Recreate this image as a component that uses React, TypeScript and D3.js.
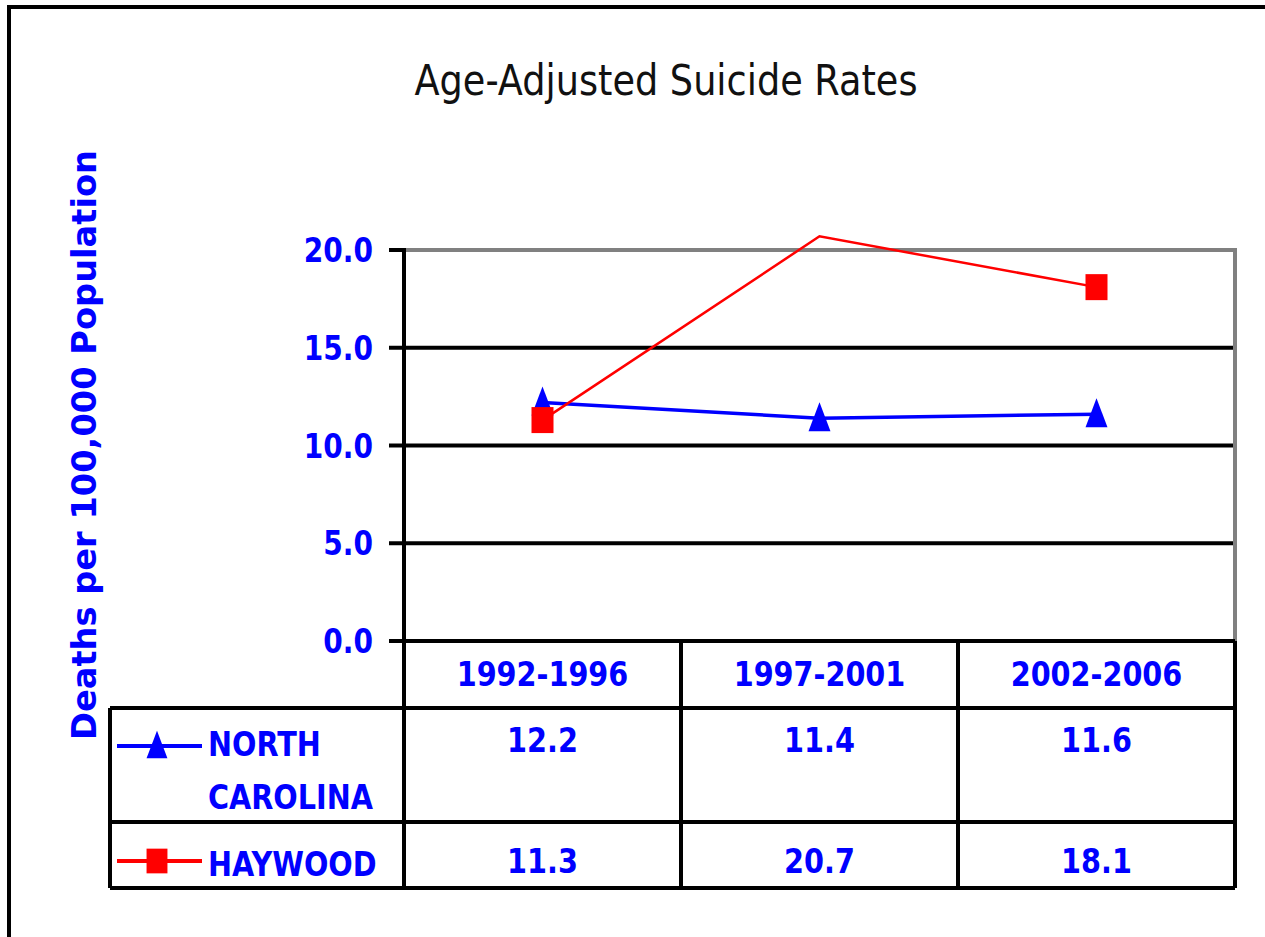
import * as d3 from 'd3';

const periods = ['1992-1996', '1997-2001', '2002-2006'];
const northCarolina = [12.2, 11.4, 11.6];
const haywood = [11.3, 20.7, 18.1];
const yTicks = [0, 5, 10, 15, 20];

const series = [
  { label: ['NORTH', 'CAROLINA'], values: northCarolina, color: '#0000ff', marker: 'triangle', width: 3.5 },
  { label: ['HAYWOOD'], values: haywood, color: '#ff0000', marker: 'square', width: 2.5 },
];

const FONT = 'DejaVu Sans, Verdana, sans-serif';
const BLUE = '#0000ff';

// plot frame
const left = 404;
const right = 1235;
const top = 250;
const bottom = 641;
// table rows
const headerBottom = 708;
const rowBottoms = [822, 888];
const tableLeft = 110;

const Marker = ({ type, color, x, y, s = 1 }) => {
  if (type === 'triangle') {
    return (
      <path
        d={`M0,${-16 * s}L${11 * s},${13 * s}L${-11 * s},${13 * s}Z`}
        transform={`translate(${x},${y})`}
        fill={color}
      />
    );
  }
  return <rect x={x - 11 * s} y={y - 13 * s} width={22 * s} height={26 * s} fill={color} />;
};

const Txt = ({ x, y, anchor = 'middle', size = 33, sx = 0.87, bold = true, fill = BLUE, children }) => (
  <text
    transform={`translate(${x},${y}) scale(${sx},1)`}
    textAnchor={anchor}
    fontFamily={FONT}
    fontWeight={bold ? 'bold' : 'normal'}
    fontSize={size}
    fill={fill}
  >
    {children}
  </text>
);

export default function App() {
  const x = d3.scaleBand().domain(periods).range([left, right]);
  const y = d3.scaleLinear().domain([0, 20]).range([bottom, top]);
  const cx = (p) => x(p) + x.bandwidth() / 2;
  const fmt = d3.format('.1f');
  const line = d3
    .line()
    .x((d, i) => cx(periods[i]))
    .y((d) => y(d));
  const colEdges = periods.map((p) => x(p)).concat([right]);
  const rowTops = [headerBottom, rowBottoms[0]];

  return (
    <svg
      width={1265}
      height={937}
      style={{ position: 'absolute', left: 0, top: 0, background: '#fff' }}
    >
      {/* outer frame */}
      <rect x={9} y={7} width={1400} height={1100} fill="none" stroke="#000" strokeWidth={4} />

      <text
        x={666}
        y={95}
        textAnchor="middle"
        fontFamily={FONT}
        fontSize={42}
        textLength={503}
        lengthAdjust="spacingAndGlyphs"
        fill="#111"
      >
        Age-Adjusted Suicide Rates
      </text>

      <text
        transform="translate(96,445) rotate(-90)"
        textAnchor="middle"
        fontFamily={FONT}
        fontWeight="bold"
        fontSize={34}
        textLength={590}
        lengthAdjust="spacingAndGlyphs"
        fill={BLUE}
      >
        Deaths per 100,000 Population
      </text>

      {/* gridlines */}
      {yTicks.map((t) => (
        <g key={t}>
          <line
            x1={left}
            x2={right}
            y1={y(t)}
            y2={y(t)}
            stroke={t === 20 ? '#808080' : '#000'}
            strokeWidth={4}
          />
          <line x1={389} x2={left} y1={y(t)} y2={y(t)} stroke="#000" strokeWidth={4} />
          <Txt x={373} y={y(t) + 12} anchor="end" sx={0.85}>
            {fmt(t)}
          </Txt>
        </g>
      ))}
      <line x1={right} x2={right} y1={top - 2} y2={bottom} stroke="#808080" strokeWidth={4} />
      <line x1={left} x2={left} y1={top - 2} y2={bottom} stroke="#000" strokeWidth={4} />

      {/* data table */}
      <g stroke="#000" strokeWidth={4}>
        <line x1={left} x2={right} y1={bottom} y2={bottom} />
        <line x1={tableLeft} x2={right} y1={headerBottom} y2={headerBottom} />
        {rowBottoms.map((r) => (
          <line key={r} x1={tableLeft} x2={right} y1={r} y2={r} />
        ))}
        <line x1={tableLeft} x2={tableLeft} y1={headerBottom} y2={rowBottoms[1]} />
        {colEdges.map((c) => (
          <line key={c} x1={c} x2={c} y1={bottom} y2={rowBottoms[1]} />
        ))}
      </g>
      {periods.map((p) => (
        <Txt key={p} x={cx(p)} y={686}>
          {p}
        </Txt>
      ))}

      {series.map((s, si) => {
        const rowTop = rowTops[si];
        const midY = si === 0 ? 746 : 861;
        return (
          <g key={si}>
            <line x1={117} x2={202} y1={midY} y2={midY} stroke={s.color} strokeWidth={4} />
            <Marker type={s.marker} color={s.color} x={157} y={midY} s={0.95} />
            {s.label.map((l, li) => (
              <Txt key={l} x={208} y={(si === 0 ? 756 : 876) + li * 53} anchor="start">
                {l}
              </Txt>
            ))}
            {s.values.map((v, i) => (
              <Txt key={i} x={cx(periods[i])} y={rowTop + (si === 0 ? 44 : 51)}>
                {fmt(v)}
              </Txt>
            ))}
          </g>
        );
      })}

      {/* series lines and markers */}
      {series.map((s, si) => (
        <g key={si}>
          <path d={line(s.values)} fill="none" stroke={s.color} strokeWidth={s.width} />
          {s.values.map((v, i) =>
            v <= 20 ? <Marker key={i} type={s.marker} color={s.color} x={cx(periods[i])} y={y(v)} /> : null
          )}
        </g>
      ))}
    </svg>
  );
}
